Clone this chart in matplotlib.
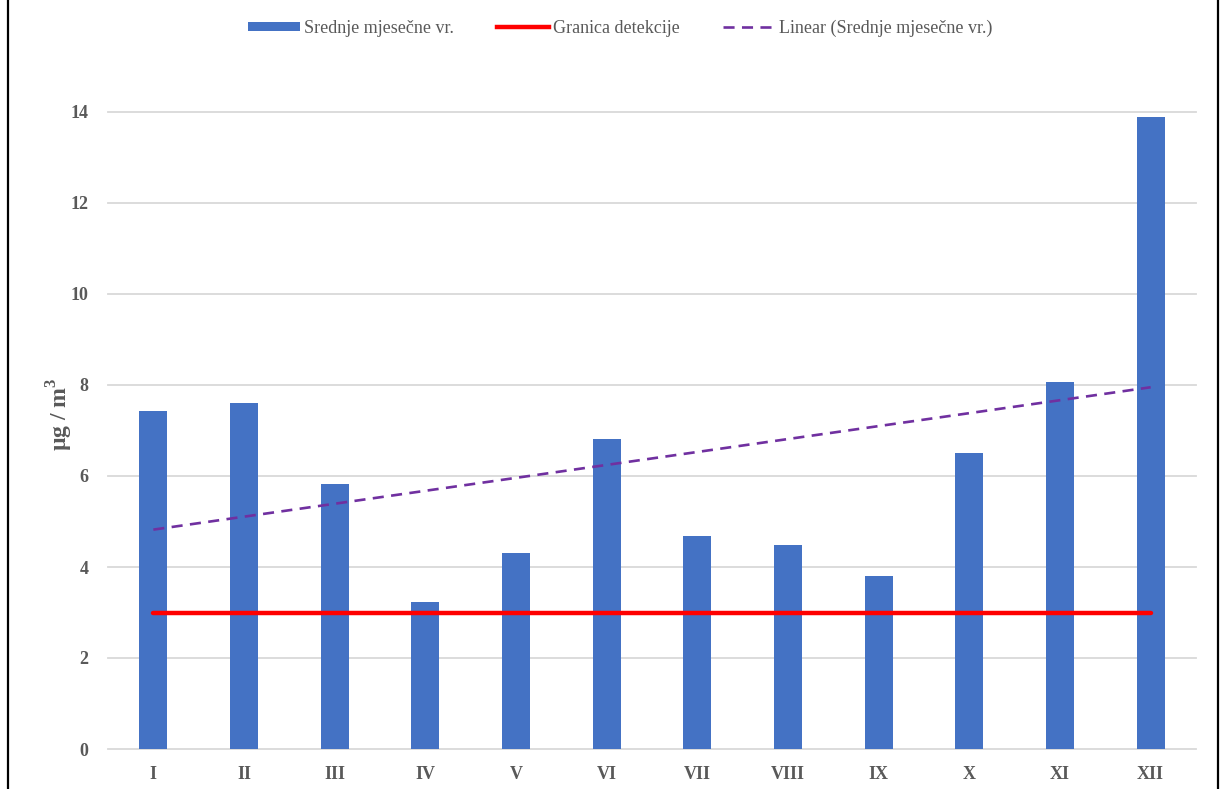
import matplotlib
matplotlib.use("Agg")
import matplotlib.pyplot as plt
import numpy as np
from matplotlib.lines import Line2D
from matplotlib.patches import Patch

months = ["I", "II", "III", "IV", "V", "VI", "VII", "VIII", "IX", "X", "XI", "XII"]
monthly_means = [7.43, 7.60, 5.82, 3.23, 4.31, 6.81, 4.68, 4.48, 3.80, 6.51, 8.07, 13.89]
detection_limit = [3.0] * 12
y_ticks = [0, 2, 4, 6, 8, 10, 12, 14]

label_bar = "Srednje mjesečne vr."
label_limit = "Granica detekcije"
label_trend = "Linear (Srednje mjesečne vr.)"

blue = "#4472C4"
red = "#FF0000"
purple = "#7030A0"
grid_c = "#D9D9D9"
text_c = "#595959"

plt.rcParams['font.family'] = ['Liberation Serif', 'DejaVu Serif']

fig = plt.figure(figsize=(12.23, 7.89), dpi=100)
ax = fig.add_axes([108/1223, 1-749/789, (1196-108)/1223, (749-112)/789])

x = np.arange(len(months))
ax.bar(x, monthly_means, width=0.31, color=blue, zorder=3)
ax.plot(x, detection_limit, color=red, lw=3.2, solid_capstyle='round', zorder=4)

coef = np.polyfit(x, monthly_means, 1)
trend = np.polyval(coef, x)
ax.plot(x, trend, color=purple, lw=1.9, dashes=(4.2, 2.8), zorder=5)

ax.set_xlim(-0.5, len(months) - 0.5)
ax.set_ylim(0, 14)
ax.set_yticks(y_ticks)
ax.set_xticks(x)
ax.set_xticklabels(months)
ax.yaxis.grid(True, color=grid_c, lw=1.3, zorder=0)
for gl in ax.get_ygridlines():
    gl.set_clip_on(False)
ax.set_axisbelow(True)
for s in ax.spines.values():
    s.set_visible(False)
ax.tick_params(axis='both', length=0, labelsize=13, labelcolor=text_c)
ax.tick_params(axis='y', pad=14)
ax.tick_params(axis='x', pad=12)
for lab in ax.get_xticklabels() + ax.get_yticklabels():
    lab.set_fontweight('bold')

ax.set_ylabel("µg / m$^\\mathregular{3}$", fontsize=17, fontweight='bold', color=text_c)
ax.yaxis.set_label_coords((75 - 108) / 1088, (749 - 414) / 637)

handles = [
    Patch(facecolor=blue, edgecolor='none'),
    Line2D([0], [0], color=red, lw=3.2),
    Line2D([0], [0], color=purple, lw=1.9, dashes=(4.2, 2.8)),
]
leg = fig.legend(handles, [label_bar, label_limit, label_trend], loc='center',
                 bbox_to_anchor=(0.507, 1-28/789), ncol=3, frameon=False,
                 fontsize=13, handlelength=2.9, handleheight=0.4,
                 columnspacing=2.4, handletextpad=0.2)
for t in leg.get_texts():
    t.set_color(text_c)

fig.add_artist(Line2D([7.5/1223, 7.5/1223], [0, 1], color='black', lw=1.6, transform=fig.transFigure))
fig.add_artist(Line2D([1217.5/1223, 1217.5/1223], [0, 1], color='black', lw=1.6, transform=fig.transFigure))

fig.savefig("out.png", dpi=100)
